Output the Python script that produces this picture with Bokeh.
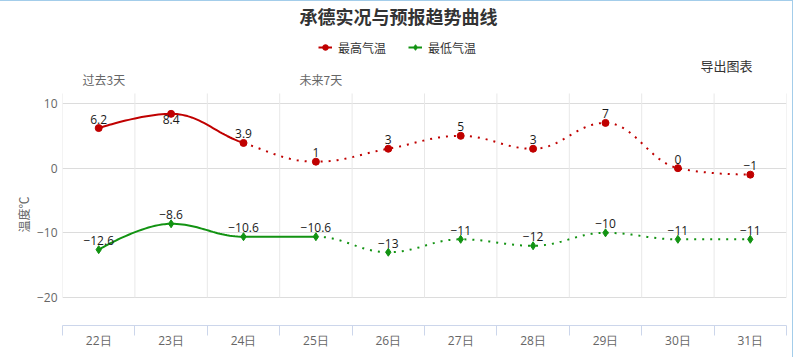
import numpy as np
from bokeh.plotting import figure
from bokeh.models import (ColumnDataSource, FixedTicker, Label, Legend, LegendItem, Range1d, Title)
from bokeh.core.properties import value
from bokeh.embed import file_html
from bokeh.resources import INLINE

# ---------------- data ----------------
days = ["22日", "23日", "24日", "25日", "26日", "27日", "28日", "29日", "30日", "31日"]
t_max = [6.2, 8.4, 3.9, 1, 3, 5, 3, 7, 0, -1]
t_min = [-12.6, -8.6, -10.6, -10.6, -13, -11, -12, -10, -11, -11]
y_ticks = [-20, -10, 0, 10]
observed_max = 3   # number of observed (solid) points of the max series
observed_min = 4   # number of observed (solid) points of the min series
title_text = "承德实况与预报趋势曲线"
series_names = ["最高气温", "最低气温"]
past_text = "过去3天"
future_text = "未来7天"
export_text = "导出图表"
y_title = "温度℃"

# ---------------- style / view ----------------
RED = "#c00000"
GREEN = "#129312"
NUM_FONT = "Open Sans"
CJK_FONT = "Noto Sans CJK SC"
W, H = 793, 357
ML, MR, MT, MB = 62, 7, 0, 33
FH = H - MT - MB                 # frame height in px
PX_PER_DEG = 6.4667
Y_LO = -24.33
Y_HI = Y_LO + FH / PX_PER_DEG
Y_PLOT_TOP = 11.55               # top of the plotting band (gridlines stop here)


def minus(v):
    return ("%g" % v).replace("-", "\u2212")


def hc_spline(xs, ys, n=30, smoothing=1.5):
    xs = [float(v) for v in xs]
    ys = [float(v) for v in ys]
    N = len(xs)
    lc = [(xs[i], ys[i]) for i in range(N)]
    rc = [(xs[i], ys[i]) for i in range(N)]
    d = smoothing + 1
    for i in range(1, N - 1):
        x, y = xs[i], ys[i]
        lx, ly = xs[i - 1], ys[i - 1]
        nx, ny = xs[i + 1], ys[i + 1]
        lcx = (smoothing * x + lx) / d
        lcy = (smoothing * y + ly) / d
        rcx = (smoothing * x + nx) / d
        rcy = (smoothing * y + ny) / d
        if rcx != lcx:
            joint = ((rcy - lcy) * (rcx - x)) / (rcx - lcx) + y - rcy
            lcy += joint
            rcy += joint
        if lcy > ly and lcy > y:
            lcy = max(ly, y); rcy = 2 * y - lcy
        elif lcy < ly and lcy < y:
            lcy = min(ly, y); rcy = 2 * y - lcy
        if rcy > ny and rcy > y:
            rcy = max(ny, y); lcy = 2 * y - rcy
        elif rcy < ny and rcy < y:
            rcy = min(ny, y); lcy = 2 * y - rcy
        lc[i] = (lcx, lcy)
        rc[i] = (rcx, rcy)
    segs = []
    t = np.linspace(0, 1, n)
    for i in range(1, N):
        p0 = np.array([xs[i - 1], ys[i - 1]])
        p1 = np.array(rc[i - 1])
        p2 = np.array(lc[i])
        p3 = np.array([xs[i], ys[i]])
        pts = (np.outer((1 - t) ** 3, p0) + np.outer(3 * (1 - t) ** 2 * t, p1)
               + np.outer(3 * (1 - t) * t ** 2, p2) + np.outer(t ** 3, p3))
        segs.append(pts)
    return segs


def join(segs):
    pts = np.vstack(segs)
    return pts[:, 0], pts[:, 1]


xs = list(range(len(days)))

p = figure(width=W, height=H, output_backend="svg", toolbar_location=None,
           x_range=Range1d(-0.5, len(days) - 0.5), y_range=Range1d(Y_LO, Y_HI),
           min_border_left=ML, min_border_right=MR, min_border_top=MT, min_border_bottom=MB)
p.styles = {"border-top": "1px solid #a3cdea", "border-right": "1px solid #a3cdea"}
p.outline_line_color = None
p.background_fill_color = "white"
p.border_fill_color = "white"

# grids
p.xgrid.visible = False
p.ygrid.ticker = FixedTicker(ticks=y_ticks)
p.ygrid.grid_line_color = "#dcdcdc"
bounds = [i - 0.5 for i in range(len(days) + 1)]
p.segment(x0=bounds, y0=[y_ticks[0]] * len(bounds), x1=bounds, y1=[Y_PLOT_TOP] * len(bounds),
          line_color="#e8e8e8", line_width=1)

# axes
p.xaxis.ticker = FixedTicker(ticks=xs, minor_ticks=bounds)
p.xaxis.major_label_overrides = {i: d for i, d in enumerate(days)}
p.xaxis.major_tick_in = 0
p.xaxis.major_tick_out = 0
p.xaxis.minor_tick_in = 0
p.xaxis.minor_tick_out = 10
p.xaxis.minor_tick_line_color = "#ccd6eb"
p.xaxis.axis_line_color = "#ccd6eb"
p.xaxis.major_label_standoff = -4
p.xaxis.major_label_text_font = NUM_FONT
p.xaxis.major_label_text_font_size = "12px"
p.xaxis.major_label_text_color = "#666666"

p.yaxis.ticker = FixedTicker(ticks=y_ticks)
p.yaxis.major_label_overrides = {t: minus(t) for t in y_ticks}
p.yaxis.axis_line_color = None
p.yaxis.major_tick_line_color = None
p.yaxis.minor_tick_line_color = None
p.yaxis.major_tick_out = 0
p.yaxis.major_tick_in = 0
p.yaxis.minor_tick_out = 0
p.yaxis.minor_tick_in = 0
p.yaxis.major_label_standoff = 5
p.yaxis.major_label_text_font = NUM_FONT
p.yaxis.major_label_text_font_size = "12px"
p.yaxis.major_label_text_color = "#666666"

# y-axis title (reading upwards, placed beside the plotting band)
p.add_layout(Title(text=y_title, align="left", offset=93, standoff=4,
                   text_font=CJK_FONT, text_font_size="12px", text_font_style="normal",
                   text_color="#666666"), "left")

# series
legend_items = []
for vals, col, nobs, name, marker, msize in [
        (t_max, RED, observed_max, series_names[0], "circle", 7),
        (t_min, GREEN, observed_min, series_names[1], "diamond", 8)]:
    segs = hc_spline(xs, vals)
    sx, sy = join(segs[:nobs - 1])
    dx, dy = join(segs[nobs - 1:])
    r_solid = p.line(sx, sy, line_color=col, line_width=2)
    p.line(dx, dy, line_color=col, line_width=2, line_dash="2 6")
    r_mark = p.scatter(xs, vals, marker=marker, size=msize, fill_color=col, line_color=col)
    legend_items.append(LegendItem(label=name, renderers=[r_solid, r_mark]))

    # data labels: above the point, below when it would overflow the plotting band
    above = [(Y_PLOT_TOP - v) * PX_PER_DEG >= 22 for v in vals]
    up = ColumnDataSource(dict(x=[x for x, a in zip(xs, above) if a],
                               y=[v for v, a in zip(vals, above) if a],
                               t=[minus(v) for v, a in zip(vals, above) if a]))
    dn = ColumnDataSource(dict(x=[x for x, a in zip(xs, above) if not a],
                               y=[v for v, a in zip(vals, above) if not a],
                               t=[minus(v) for v, a in zip(vals, above) if not a]))
    p.text(x="x", y="y", text="t", source=up, text_font=value(NUM_FONT), text_font_size="12px",
           text_align="center", text_baseline="alphabetic", y_offset=-9, text_color="#1a1a1a")
    p.text(x="x", y="y", text="t", source=dn, text_font=value(NUM_FONT), text_font_size="12px",
           text_align="center", text_baseline="alphabetic", y_offset=6, text_color="#1a1a1a")

# page-level texts (screen px measured from the frame's bottom-left; frame bottom is page y 325)
BASE = 325
legend = Legend(items=legend_items, location=(256, BASE - 57), orientation="horizontal",
                glyph_width=14, glyph_height=20, label_standoff=6, spacing=22, padding=0, margin=0,
                border_line_color=None, background_fill_alpha=0,
                label_text_font=CJK_FONT, label_text_font_size="12px", label_text_color="#333333")
p.add_layout(legend, "center")

p.add_layout(Label(x=336, y=BASE - 15, x_units="screen", y_units="screen", text=title_text,
                   text_font=CJK_FONT, text_font_size="18px", text_font_style="bold",
                   text_color="#333333", text_align="center", text_baseline="middle"))
p.add_layout(Label(x=20, y=BASE - 79, x_units="screen", y_units="screen", text=past_text,
                   text_font=CJK_FONT, text_font_size="12px", text_color="#666666",
                   text_align="left", text_baseline="middle"))
p.add_layout(Label(x=237, y=BASE - 79, x_units="screen", y_units="screen", text=future_text,
                   text_font=CJK_FONT, text_font_size="12px", text_color="#666666",
                   text_align="left", text_baseline="middle"))
p.add_layout(Label(x=638, y=BASE - 65, x_units="screen", y_units="screen", text=export_text,
                   text_font=CJK_FONT, text_font_size="13px", text_color="#333333",
                   text_align="left", text_baseline="middle"))

open("out.html", "w").write(file_html(p, INLINE))
